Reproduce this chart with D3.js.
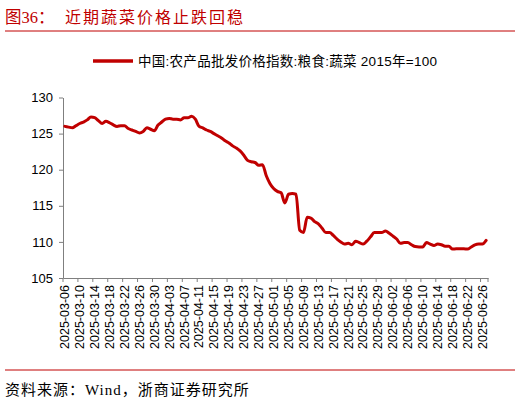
<!DOCTYPE html>
<html><head><meta charset="utf-8">
<script src="https://cdn.jsdelivr.net/npm/d3@7"></script>
<style>body{margin:0;background:#fff;} svg{display:block;}</style>
</head><body><svg id="c" width="520" height="402"></svg>
<script>
// Categories: daily dates 2025-03-06 .. 2025-06-27
const dates = d3.timeDay.range(new Date(2025, 2, 6), new Date(2025, 5, 28)).map(d3.timeFormat("%Y-%m-%d"));

// 中国:农产品批发价格指数:粮食:蔬菜 (2015年=100)
const values = [
  126.0,125.9,125.8,126.1,126.4,126.6,126.9,127.3,127.2,126.8,
  126.4,126.7,126.5,126.2,126.0,126.1,126.1,125.7,125.5,125.3,
  125.1,125.3,125.8,125.6,125.4,126.2,126.6,127.0,127.1,127.0,
  127.0,126.9,127.2,127.2,127.4,127.0,126.0,125.8,125.5,125.3,
  125.0,124.7,124.4,124.0,123.7,123.3,123.0,122.6,122.0,121.3,
  121.1,121.0,120.6,120.7,119.2,118.1,117.4,117.0,116.8,115.4,
  116.6,116.7,116.6,111.6,111.3,113.4,113.3,112.8,112.5,111.9,
  111.3,111.3,110.9,110.4,110.0,109.7,109.8,109.6,110.1,109.9,
  109.7,110.1,110.7,111.3,111.3,111.3,111.5,111.2,110.8,110.4,
  109.8,109.9,109.9,109.6,109.35,109.3,109.3,109.9,109.7,109.5,
  109.7,109.6,109.4,109.4,109.0,109.05,109.05,109.05,109.0,109.3,
  109.6,109.7,109.7,110.2
];

const tickLabels = [
  "2025-03-06","2025-03-10","2025-03-14","2025-03-18","2025-03-22","2025-03-26","2025-03-30",
  "2025-04-03","2025-04-07","2025-04-11","2025-04-15","2025-04-19","2025-04-23","2025-04-27",
  "2025-05-01","2025-05-05","2025-05-09","2025-05-13","2025-05-17","2025-05-21","2025-05-25",
  "2025-05-29","2025-06-02","2025-06-06","2025-06-10","2025-06-14","2025-06-18","2025-06-22","2025-06-26"
];
const yTicks = [105, 110, 115, 120, 125, 130];

const titleNo = "图36：";
const titleText = "近期蔬菜价格止跌回稳";
const legendText = "中国:农产品批发价格指数:粮食:蔬菜 2015年=100";
const sourceText = "资料来源：Wind，浙商证券研究所";

const RED = "#c00000";
const AX = "#7f7f7f";

const svg = d3.select("#c");
const x = d3.scaleBand().domain(dates).range([63, 488]).padding(0);
const y = d3.scaleLinear().domain([105, 130]).range([278, 97.5]);

// Title
svg.append("text").attr("x", 5).attr("y", 23)
  .attr("font-family", "'Liberation Serif','Noto Sans CJK SC'").attr("font-size", 16.5)
  .attr("fill", RED).text(titleNo);
svg.append("text").attr("x", 65).attr("y", 23)
  .attr("font-family", "'Noto Sans CJK SC'").attr("font-size", 16)
  .attr("textLength", 178).attr("lengthAdjust", "spacing")
  .attr("fill", RED).text(titleText);
svg.append("line").attr("x1", 5).attr("x2", 515).attr("y1", 31).attr("y2", 31)
  .attr("stroke", RED).attr("stroke-width", 1);

// Legend
svg.append("line").attr("x1", 93).attr("x2", 133).attr("y1", 61).attr("y2", 61)
  .attr("stroke", RED).attr("stroke-width", 3.5);
svg.append("text").attr("x", 138).attr("y", 65.5)
  .attr("font-family", "'Liberation Sans','Noto Sans CJK SC'").attr("font-size", 13.5)
  .attr("textLength", 299).attr("lengthAdjust", "spacing")
  .attr("fill", "#000").text(legendText);

// Y axis
const yAxis = d3.axisLeft(y).tickValues(yTicks).tickSize(4).tickSizeOuter(0).tickFormat(d3.format("d"));
const gy = svg.append("g").attr("transform", "translate(63,0)").call(yAxis);
gy.select(".domain").attr("stroke", AX);
gy.selectAll(".tick line").attr("stroke", AX);
gy.selectAll(".tick text").attr("font-family", "'Liberation Sans',Arial,sans-serif")
  .attr("font-size", 13).attr("fill", "#000").attr("x", -10);

// X axis (labels via axis, centered on categories)
const xAxis = d3.axisBottom(x).tickValues(tickLabels).tickSize(0).tickSizeOuter(0);
const gx = svg.append("g").attr("transform", "translate(0,278)").call(xAxis);
gx.select(".domain").attr("stroke", AX);
gx.selectAll(".tick text")
  .attr("font-family", "'Liberation Sans',Arial,sans-serif").attr("font-size", 12.5).attr("fill", "#000")
  .attr("transform", "rotate(-90)").attr("text-anchor", "end")
  .attr("x", -7).attr("y", 0).attr("dy", "0.35em");

// X tick marks between categories every 4 days
const tickPos = tickLabels.map(d => x(d)).concat([x.range()[1]]);
svg.append("g").selectAll("line").data(tickPos).join("line")
  .attr("x1", d => d).attr("x2", d => d).attr("y1", 278).attr("y2", 282)
  .attr("stroke", AX).attr("stroke-width", 1);

// Data line
const line = d3.line()
  .x((d, i) => x(dates[i]) + x.bandwidth() / 2)
  .y(d => y(d))
  .curve(d3.curveMonotoneX);
svg.append("path").datum(values).attr("d", line)
  .attr("fill", "none").attr("stroke", RED).attr("stroke-width", 3)
  .attr("stroke-linejoin", "round").attr("stroke-linecap", "round");

// Bottom rule and source
svg.append("line").attr("x1", 5).attr("x2", 515).attr("y1", 370).attr("y2", 370)
  .attr("stroke", RED).attr("stroke-width", 1);
svg.append("text").attr("x", 5).attr("y", 395)
  .attr("font-family", "'Liberation Serif','Noto Sans CJK SC'").attr("font-size", 15)
  .attr("letter-spacing", 1)
  .attr("fill", "#000").text(sourceText);
</script></body></html>
